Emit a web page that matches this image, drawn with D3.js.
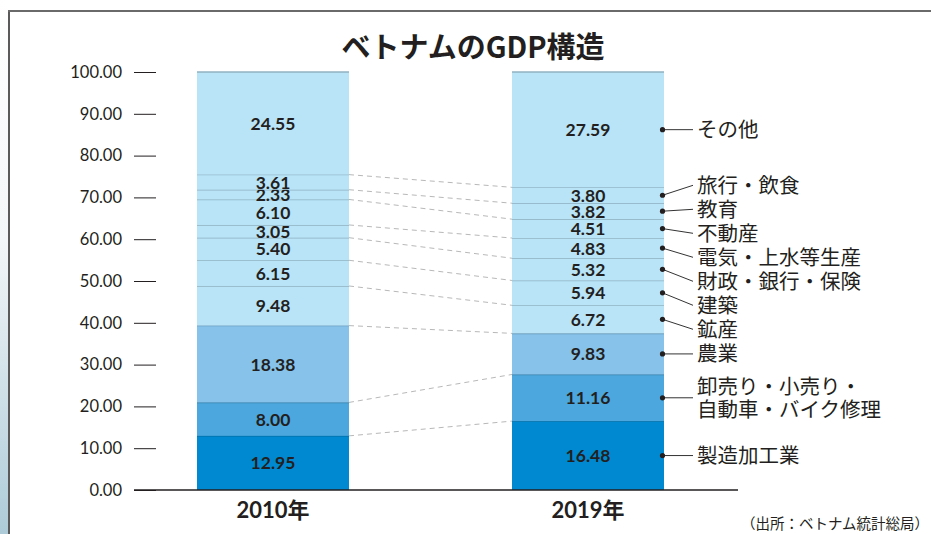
<!DOCTYPE html>
<html>
<head>
<meta charset="utf-8">
<script src="https://cdn.jsdelivr.net/npm/d3@7"></script>
<style>
  body { margin: 0; background: #fff; }
  svg { display: block; }
</style>
</head>
<body>
<div id="chart"></div>
<script>
const title = "ベトナムのGDP構造";
const source = "（出所：ベトナム統計総局）";
const years = ["2010年", "2019年"];
// bottom to top, each label split into its printed lines
const sectors = [
  ["製造加工業"],
  ["卸売り・小売り・", "自動車・バイク修理"],
  ["農業"],
  ["鉱産"],
  ["建築"],
  ["財政・銀行・保険"],
  ["電気・上水等生産"],
  ["不動産"],
  ["教育"],
  ["旅行・飲食"],
  ["その他"],
];
const share2010 = [12.95, 8.0, 18.38, 9.48, 6.15, 5.4, 3.05, 6.1, 2.33, 3.61, 24.55];
const share2019 = [16.48, 11.16, 9.83, 6.72, 5.94, 5.32, 4.83, 4.51, 3.82, 3.8, 27.59];
const yTicks = [0, 10, 20, 30, 40, 50, 60, 70, 80, 90, 100];

const W = 931, H = 534;
const textColor = "#231f20";
const numFont = "Lato, 'Noto Sans CJK JP', sans-serif";
const jpFont = "'Noto Sans CJK JP', sans-serif";

function sectorColor(i) {
  if (i === 0) return "#0089d0";
  if (i === 1) return "#4ba7dd";
  if (i === 2) return "#86c2ea";
  return "#b9e4f8";
}

const svg = d3.select("#chart").append("svg").attr("width", W).attr("height", H);

// left page strip + frame
const grad = svg.append("defs").append("linearGradient")
  .attr("id", "strip").attr("x1", 0).attr("y1", 0).attr("x2", 0).attr("y2", 1);
grad.append("stop").attr("offset", "0%").attr("stop-color", "#ffffff");
grad.append("stop").attr("offset", "45%").attr("stop-color", "#f3f6f8");
grad.append("stop").attr("offset", "100%").attr("stop-color", "#adcbd8");
svg.append("rect").attr("x", 0).attr("y", 0).attr("width", 8).attr("height", H).attr("fill", "url(#strip)");
svg.append("line").attr("x1", 9).attr("x2", 9).attr("y1", 10).attr("y2", H)
  .attr("stroke", "#5a5a5a").attr("stroke-width", 2);
svg.append("line").attr("x1", 8).attr("x2", W).attr("y1", 11).attr("y2", 11)
  .attr("stroke", "#6a6a6a").attr("stroke-width", 2);

const x = d3.scaleBand().domain(years).range([197, 664]).paddingInner(163 / 315).paddingOuter(0);
const y = d3.scaleLinear().domain([0, 100]).range([490, 72]);
const bw = x.bandwidth();

const keys = sectors.map((s, i) => "k" + i);
const table = years.map((yr, j) => {
  const row = { year: yr };
  const vals = j === 0 ? share2010 : share2019;
  keys.forEach((k, i) => (row[k] = vals[i]));
  return row;
});
const series = d3.stack().keys(keys)(table);

// title
svg.append("text")
  .attr("x", 473).attr("y", 45)
  .attr("text-anchor", "middle").attr("dominant-baseline", "central")
  .style("font-family", jpFont).style("font-weight", 700).style("font-size", "29px")
  .style("fill", textColor)
  .text(title);

// y axis
const yAxis = svg.append("g").attr("transform", "translate(156,0)")
  .call(d3.axisLeft(y).tickValues(yTicks).tickFormat(d3.format(".2f")).tickSize(22).tickPadding(12));
yAxis.select(".domain").remove();
yAxis.selectAll("line").attr("stroke", textColor);
yAxis.selectAll("text").style("font-family", numFont).style("font-size", "16.5px").style("fill", textColor);

// dashed connectors between the two bars
const x0 = x(years[0]) + bw, x1 = x(years[1]);
svg.append("g").selectAll("line")
  .data(series.slice(0, series.length - 1))
  .join("line")
  .attr("x1", x0).attr("x2", x1)
  .attr("y1", (s) => y(s[0][1]))
  .attr("y2", (s) => y(s[1][1]))
  .attr("stroke", "#b8b8b8").attr("stroke-width", 1).attr("stroke-dasharray", "5,4");

// stacked bars
const layer = svg.append("g").selectAll("g").data(series).join("g");
layer.selectAll("rect")
  .data((s) => s.map((d) => ({ d, i: s.index })))
  .join("rect")
  .attr("x", (o) => x(o.d.data.year))
  .attr("y", (o) => y(o.d[1]))
  .attr("width", bw)
  .attr("height", (o) => y(o.d[0]) - y(o.d[1]))
  .attr("fill", (o) => sectorColor(o.i));
layer.selectAll("line")
  .data((s) => s.map((d) => ({ d, i: s.index })))
  .join("line")
  .attr("x1", (o) => x(o.d.data.year))
  .attr("x2", (o) => x(o.d.data.year) + bw)
  .attr("y1", (o) => y(o.d[1]))
  .attr("y2", (o) => y(o.d[1]))
  .attr("stroke", (o) => d3.color(sectorColor(o.i)).darker(0.7))
  .attr("stroke-width", 1.5);
layer.selectAll("text")
  .data((s) => s.map((d) => ({ d, i: s.index })))
  .join("text")
  .attr("x", (o) => x(o.d.data.year) + bw / 2)
  .attr("y", (o) => y((o.d[0] + o.d[1]) / 2))
  .attr("text-anchor", "middle").attr("dominant-baseline", "central")
  .style("font-family", numFont).style("font-weight", 700).style("font-size", "17.5px")
  .style("fill", textColor)
  .text((o) => d3.format(".2f")(o.d[1] - o.d[0]));

// baseline
svg.append("line").attr("x1", 134).attr("x2", 738).attr("y1", y(0)).attr("y2", y(0))
  .attr("stroke", textColor).attr("stroke-width", 1.5);

// x axis labels
const xAxis = svg.append("g").attr("transform", `translate(0,${y(0)})`)
  .call(d3.axisBottom(x).tickSize(0).tickPadding(12));
xAxis.select(".domain").remove();
xAxis.selectAll("text")
  .style("font-family", numFont).style("font-weight", 700).style("font-size", "22px")
  .style("fill", textColor);

// right-hand labels for the 2019 bar, spread apart so they don't overlap
const lineH = 23;
const items = series.map((s) => {
  const d = s[1];
  const lines = sectors[s.index];
  return { lines, dot: y((d[0] + d[1]) / 2), h: lines.length * lineH + 1 };
}).sort((a, b) => a.dot - b.dot);

let blocks = items.map((it) => ({ items: [it] }));
function place(b) {
  const total = d3.sum(b.items, (it) => it.h);
  const c = (b.items[0].dot + b.items[b.items.length - 1].dot) / 2;
  let top = c - total / 2;
  b.items.forEach((it) => { it.ly = top + it.h / 2; top += it.h; });
  b.top = c - total / 2;
  b.bottom = c + total / 2;
}
blocks.forEach(place);
let merged = true;
while (merged) {
  merged = false;
  for (let i = 0; i < blocks.length - 1; i++) {
    if (blocks[i].bottom > blocks[i + 1].top) {
      blocks[i].items = blocks[i].items.concat(blocks[i + 1].items);
      blocks.splice(i + 1, 1);
      place(blocks[i]);
      merged = true;
      break;
    }
  }
}

const dotX = x1 + bw - 1.5;
const lab = svg.append("g").selectAll("g").data(items).join("g");
lab.append("line")
  .attr("x1", dotX).attr("y1", (d) => d.dot)
  .attr("x2", 693).attr("y2", (d) => d.ly)
  .attr("stroke", "#333").attr("stroke-width", 1);
lab.append("circle")
  .attr("cx", dotX).attr("cy", (d) => d.dot).attr("r", 2.6)
  .attr("fill", "#231f20");
lab.append("text")
  .attr("x", 697)
  .attr("y", (d) => d.ly - ((d.lines.length - 1) * lineH) / 2)
  .style("font-family", jpFont).style("font-size", "20.5px").style("fill", textColor)
  .selectAll("tspan")
  .data((d) => d.lines)
  .join("tspan")
  .attr("x", 697)
  .attr("dy", (t, i) => (i === 0 ? "0.36em" : lineH))
  .text((t) => t);

// source note
svg.append("text")
  .attr("x", 929).attr("y", 522)
  .attr("text-anchor", "end").attr("dominant-baseline", "central")
  .style("font-family", jpFont).style("font-size", "14.5px").style("fill", textColor)
  .text(source);
</script>
</body>
</html>
